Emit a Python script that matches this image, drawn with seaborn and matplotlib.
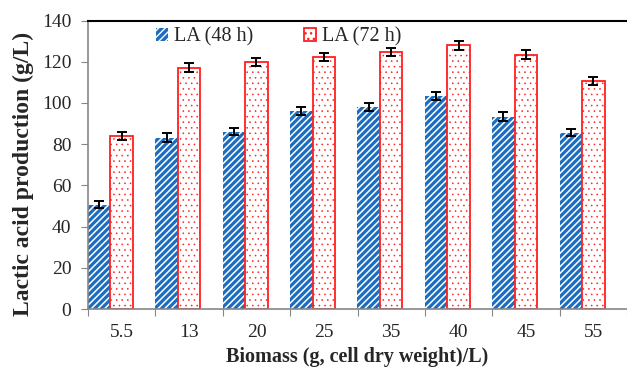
import matplotlib
matplotlib.use("Agg")
import matplotlib.pyplot as plt
import seaborn as sns
import pandas as pd
import numpy as np
from matplotlib.patches import Patch

biomass = ["5.5", "13", "20", "25", "35", "40", "45", "55"]
la_48h = [50.7, 83.2, 86.1, 95.9, 98.2, 103.2, 93.4, 85.6]
la_72h = [84.0, 117.1, 119.8, 122.3, 124.8, 127.9, 123.5, 110.6]
err_48h = [1.8, 2.0, 1.8, 2.0, 2.0, 2.0, 2.0, 1.8]
err_72h = [2.0, 2.2, 2.0, 2.0, 2.0, 2.0, 2.0, 2.0]
series = ["LA (48 h)", "LA (72 h)"]
yticks = [0, 20, 40, 60, 80, 100, 120, 140]

df = pd.DataFrame({
    "biomass": biomass * 2,
    "la": la_48h + la_72h,
    "series": [series[0]] * len(biomass) + [series[1]] * len(biomass),
})

sns.set_style("white")
plt.rcParams["font.family"] = ["Liberation Serif", "DejaVu Serif"]

BLUE = "#1c6dbf"
RED = "#ff2020"
BLUE_HATCH = "/////"
RED_HATCH = "..."

fig = plt.figure(figsize=(6.27, 3.71), dpi=100)
ax = fig.add_axes([88 / 627, 1 - 309 / 371, 1 - 88 / 627, (309 - 20.5) / 371])

sns.barplot(data=df, x="biomass", y="la", hue="series", order=biomass,
            hue_order=series, palette=[BLUE, "white"], width=0.667,
            saturation=1, ax=ax, legend=False)

c48, c72 = ax.containers[0], ax.containers[1]
for bar in c48:
    bar.set_facecolor(BLUE)
    bar.set_edgecolor("white")
    bar.set_linewidth(0)
    bar.set_hatch(BLUE_HATCH)
    bar.set_hatch_linewidth(1.1)
for bar in c72:
    bar.set_facecolor("white")
    bar.set_edgecolor(RED)
    bar.set_linewidth(1.3)
    bar.set_hatch(RED_HATCH)
    bar.set_hatch_linewidth(0.4)

for cont, vals, errs in ((c48, la_48h, err_48h), (c72, la_72h, err_72h)):
    xs = [b.get_x() + b.get_width() / 2 for b in cont]
    ax.errorbar(xs, vals, yerr=errs, fmt="none", ecolor="black",
                elinewidth=1.4, capsize=3.5, capthick=1.4, zorder=5)

n = len(biomass)
ax.set_xlim(-0.333, n - 0.333)
ax.set_ylim(0, 140)
ax.set_yticks(yticks)
ax.set_xticks(np.arange(n + 1) - 0.333)
ax.set_xticklabels([])
ax.set_xticks(np.arange(n) + 0.167, minor=True)
ax.set_xticklabels(biomass, minor=True)
ax.tick_params(axis="x", which="minor", length=0, labelsize=14, pad=11)
ax.tick_params(axis="x", which="major", length=5, color="#868686", direction="out", bottom=True)
ax.tick_params(axis="y", length=5, color="#868686", direction="out", left=True, labelsize=14, pad=7)

for s in ("left", "bottom"):
    ax.spines[s].set_color("#868686")
    ax.spines[s].set_linewidth(1.2)
ax.spines["right"].set_visible(False)
ax.spines["top"].set_color("black")
ax.spines["top"].set_linewidth(1.5)

ax.set_xlabel("Biomass (g, cell dry weight)/L)", fontsize=14.5, fontweight="bold", labelpad=4)
ax.set_ylabel("Lactic acid production (g/L)", fontsize=17, fontweight="bold")
ax.yaxis.set_label_coords(-0.101, 0.468)

handles = [Patch(facecolor=BLUE, edgecolor="white", hatch=BLUE_HATCH, linewidth=0),
           Patch(facecolor="white", edgecolor=RED, hatch=RED_HATCH, linewidth=1.3)]
fig.legend(handles, series, loc="upper left", bbox_to_anchor=(156 / 627, 1 - 27 / 371),
           ncol=2, frameon=False, fontsize=14.5, handlelength=0.6, handleheight=0.6,
           handletextpad=0.3, columnspacing=2.5, borderpad=0, borderaxespad=0)

fig.savefig("out.png", dpi=100)
